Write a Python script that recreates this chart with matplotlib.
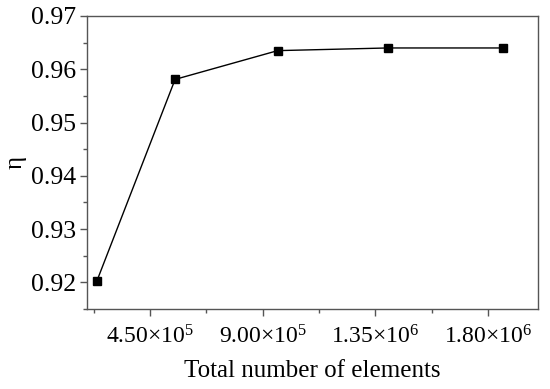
import numpy as np
import matplotlib
matplotlib.use("Agg")
import matplotlib.pyplot as plt
from matplotlib.ticker import MultipleLocator, FuncFormatter

plt.rcParams['font.family'] = ['Liberation Serif', 'DejaVu Serif']
plt.rcParams['mathtext.fontset'] = 'custom'
plt.rcParams['mathtext.rm'] = 'Liberation Serif'
plt.rcParams['mathtext.it'] = 'Liberation Serif:italic'

# data
elements = [2.37e5, 5.50e5, 9.60e5, 1.40e6, 1.86e6]
eta = [0.9202, 0.9581, 0.9635, 0.9640, 0.9640]

x_ticks = [4.5e5, 9.0e5, 1.35e6, 1.8e6]
x_labels = [r'4.50×10$^{5}$', r'9.00×10$^{5}$', r'1.35×10$^{6}$', r'1.80×10$^{6}$']

fig = plt.figure(figsize=(5.5, 3.89), dpi=100)
ax = fig.add_axes([87/550, 1-309/389, (538-87)/550, (309-16)/389])

ax.plot(elements, eta, color='black', lw=1.0, marker='s', ms=5.5)

ax.set_xlim(1.98e5, 2.0e6)
ax.set_ylim(0.915, 0.97)
ax.set_xticks(x_ticks)
ax.set_xticklabels(x_labels)
ax.xaxis.set_minor_locator(MultipleLocator(2.25e5))
ax.yaxis.set_major_locator(MultipleLocator(0.01))
ax.yaxis.set_minor_locator(MultipleLocator(0.005))
ax.yaxis.set_major_formatter(FuncFormatter(lambda v, p: '%.2f' % v))

for s in ax.spines.values():
    s.set_color('#555555')
    s.set_linewidth(1.0)
ax.tick_params(which='major', direction='out', length=5, width=1, color='#555555')
ax.tick_params(which='minor', direction='out', length=3, width=1, color='#555555')
ax.tick_params(axis='y', labelsize=18.5, pad=3)
ax.tick_params(axis='x', labelsize=17, pad=7)

ax.set_xlabel('Total number of elements', fontsize=18, labelpad=8)
ax.set_ylabel('η', fontsize=18, labelpad=3)

fig.savefig('out.png', dpi=100)
